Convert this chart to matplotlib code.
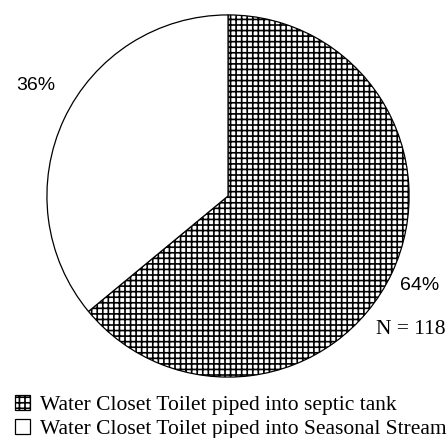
import matplotlib
matplotlib.use("Agg")
import matplotlib.pyplot as plt

# data
categories = ["Water Closet Toilet piped into septic tank",
              "Water Closet Toilet piped into Seasonal Stream"]
shares = [64, 36]
pct_labels = ["64%", "36%"]
n_total = 118

plt.rcParams['hatch.linewidth'] = 1.2
plt.rcParams['hatch.color'] = 'black'

fig = plt.figure(figsize=(4.48, 4.38), dpi=100)
ax = fig.add_axes([0.1027, 0.137, 0.8125, 0.831])

wedges, _ = ax.pie(shares, startangle=90, counterclock=False,
                   colors=['white', 'white'],
                   wedgeprops=dict(edgecolor='black', linewidth=0.9))
wedges[0].set_hatch('+++')
ax.set_xlim(-1.005, 1.005)
ax.set_ylim(-1.005, 1.005)
ax.set_aspect('equal')

sans = dict(family='Liberation Sans', fontsize=14)
serif = dict(family='Liberation Serif', fontsize=15.5)

fig.text(420 / 448, 1 - 285 / 438, pct_labels[0], ha='center', va='center', **sans)
fig.text(36 / 448, 1 - 85 / 438, pct_labels[1], ha='center', va='center', **sans)
fig.text(1 - 2 / 448, 1 - 330 / 438, "N = " + str(n_total), ha='right', va='center', **serif)

leg = fig.legend(wedges, categories, loc='upper left',
                 bbox_to_anchor=(0.034, 1 - 395 / 438),
                 frameon=False, prop=dict(family='Liberation Serif', size=15.5),
                 handlelength=0.7, handleheight=0.7, handletextpad=0.45,
                 labelspacing=0.2, borderpad=0, borderaxespad=0)

fig.savefig("out.png", dpi=100)
